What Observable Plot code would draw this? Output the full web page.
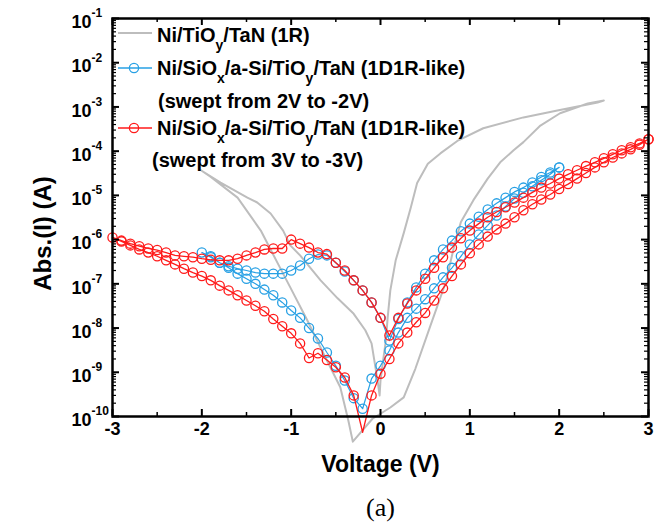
<!DOCTYPE html>
<html>
<head>
<meta charset="utf-8">
<script src="https://cdn.jsdelivr.net/npm/d3@7"></script>
<script src="https://cdn.jsdelivr.net/npm/@observablehq/plot@0.6"></script>
<style>
  html, body { margin: 0; padding: 0; background: #fff; }
  #chart svg { display: block; }
</style>
</head>
<body>
<div id="chart"></div>
<script>
const FONT = "'Liberation Sans', Arial, Helvetica, sans-serif";
const SERIF = "'Liberation Serif', 'Times New Roman', serif";

// ---- Ni/TiOy/TaN (1R) : hysteresis loop (voltage, |I|) ----
const r1_V = [2.50, 2.32, 2.01, 1.79, 1.60, 1.49, 1.34, 1.20, 1.04, 0.90, 0.83, 0.73, 0.56, 0.39, 0.26, 0.11, -0.09, -0.31,
  -0.36, -0.45, -0.64, -0.82, -1.01, -1.15, -1.34, -1.60, -1.90, -2.01,
  -1.79, -1.49, -1.38, -1.23, -1.09, -1.01, -0.90, -0.67, -0.48, -0.30, -0.17, -0.10, -0.07, -0.03, -0.01,
  0.00, 0.03, 0.06, 0.08, 0.11, 0.17, 0.26, 0.34, 0.41, 0.53, 0.67, 0.86, 1.15, 1.60, 1.98, 2.43, 2.50];
const r1_I = [1.4e-3, 1.2e-3, 7.2e-4, 3.8e-4, 1.6e-4, 1.05e-4, 5.6e-5, 2.4e-5, 7.8e-6, 2.5e-6, 7.9e-7, 1.07e-7, 1.15e-8, 1.2e-9, 2.7e-10, 1.6e-10, 8.9e-11, 2.7e-11,
  8.1e-11, 4.6e-10, 2.7e-9, 1.5e-8, 8.3e-8, 2.9e-7, 1.6e-6, 8.9e-6, 2.6e-5, 3.7e-5,
  1.95e-5, 8.9e-6, 6.9e-6, 3.9e-6, 1.6e-6, 7.4e-7, 4.4e-7, 1.2e-7, 4.7e-8, 2.1e-8, 8.9e-9, 4.5e-9, 1.9e-9, 5.9e-10, 3.0e-10,
  6.5e-10, 1.9e-9, 5.2e-9, 1.7e-8, 7.1e-8, 3.4e-7, 1.4e-6, 5.4e-6, 1.9e-5, 5.2e-5, 8.9e-5, 1.7e-4, 3.3e-4, 5.8e-4, 8.3e-4, 1.26e-3, 1.4e-3];

// ---- Ni/SiOx/a-Si/TiOy/TaN (1D1R-like), swept from 2V to -2V ----
const blue_V = [2.0, 1.9, 1.8, 1.7, 1.6, 1.5, 1.4, 1.3, 1.2, 1.1, 1.0, 0.9, 0.8, 0.7, 0.6, 0.5, 0.4, 0.3, 0.2, 0.1,
  0.0, -0.1, -0.2, -0.3, -0.4, -0.5, -0.6, -0.7, -0.8, -0.9, -1.0, -1.1, -1.2, -1.3, -1.4, -1.5, -1.6, -1.7, -1.8, -1.9, -2.0,
  -1.9, -1.8, -1.7, -1.6, -1.5, -1.4, -1.3, -1.2, -1.1, -1.0, -0.9, -0.8, -0.7, -0.6, -0.5, -0.4, -0.3, -0.2,
  -0.1, 0.0, 0.1, 0.2, 0.3, 0.4, 0.5, 0.6, 0.7, 0.8, 0.9, 1.0, 1.1, 1.2, 1.3, 1.4, 1.5, 1.6, 1.7, 1.8, 1.9, 2.0];
const blue_I = [4.3e-5, 3.3e-5, 2.6e-5, 1.95e-5, 1.5e-5, 1.2e-5, 8.9e-6, 6.6e-6, 4.8e-6, 3.3e-6, 2.3e-6, 1.55e-6, 9.5e-7, 6.0e-7, 3.4e-7, 1.7e-7, 8.3e-8, 3.8e-8, 1.6e-8, 5.2e-9,
  1.7e-8, 3.8e-8, 7.1e-8, 1.2e-7, 1.9e-7, 3.0e-7, 4.4e-7, 4.6e-7, 3.7e-7, 2.6e-7, 2.0e-7, 1.7e-7, 1.7e-7, 1.7e-7, 1.8e-7, 2.0e-7, 2.2e-7, 2.5e-7, 3.0e-7, 4.2e-7, 5.1e-7,
  4.0e-7, 3.0e-7, 2.3e-7, 1.7e-7, 1.3e-7, 1.0e-7, 7.4e-8, 5.5e-8, 3.8e-8, 2.5e-8, 1.7e-8, 1.0e-8, 5.8e-9, 2.8e-9, 1.4e-9, 6.5e-10, 2.6e-10, 1.5e-10,
  7.2e-10, 1.4e-9, 3.1e-9, 7.9e-9, 1.7e-8, 2.75e-8, 4.5e-8, 7.9e-8, 1.4e-7, 2.3e-7, 4.2e-7, 7.8e-7, 1.3e-6, 2.1e-6, 3.5e-6, 5.6e-6, 8.5e-6, 1.15e-5, 1.6e-5, 2.2e-5, 3.0e-5, 4.3e-5];

// ---- Ni/SiOx/a-Si/TiOy/TaN (1D1R-like), swept from 3V to -3V ----
const red_V = [3.0, 2.9, 2.8, 2.7, 2.6, 2.5, 2.4, 2.3, 2.2, 2.1, 2.0, 1.9, 1.8, 1.7, 1.6, 1.5, 1.4, 1.3, 1.2, 1.1, 1.0, 0.9, 0.8, 0.7, 0.6, 0.5, 0.4, 0.3, 0.2, 0.1,
  0.0, -0.1, -0.2, -0.3, -0.4, -0.5, -0.6, -0.7, -0.8, -0.9, -1.0, -1.1, -1.2, -1.3, -1.4, -1.5, -1.6, -1.7, -1.8, -1.9, -2.0, -2.1, -2.2, -2.3, -2.4, -2.5, -2.6, -2.7, -2.8, -2.9, -3.0,
  -2.9, -2.8, -2.7, -2.6, -2.5, -2.4, -2.3, -2.2, -2.1, -2.0, -1.9, -1.8, -1.7, -1.6, -1.5, -1.4, -1.3, -1.2, -1.1, -1.0, -0.9, -0.8, -0.7, -0.6, -0.5, -0.4, -0.3,
  -0.2,
  -0.1, 0.0, 0.1, 0.2, 0.3, 0.4, 0.5, 0.6, 0.7, 0.8, 0.9, 1.0, 1.1, 1.2, 1.3, 1.4, 1.5, 1.6, 1.7, 1.8, 1.9, 2.0, 2.1, 2.2, 2.3, 2.4, 2.5, 2.6, 2.7, 2.8, 2.9, 3.0];
const red_I = [1.86e-4, 1.5e-4, 1.23e-4, 1.05e-4, 8.5e-5, 6.9e-5, 5.6e-5, 4.6e-5, 3.7e-5, 3.0e-5, 2.4e-5, 1.86e-5, 1.5e-5, 1.17e-5, 8.9e-6, 6.9e-6, 5.4e-6, 4.2e-6, 3.2e-6, 2.3e-6, 1.6e-6, 1.07e-6, 6.6e-7, 4.0e-7, 2.3e-7, 1.3e-7, 7.1e-8, 3.6e-8, 1.7e-8, 6.8e-9,
  1.7e-8, 3.8e-8, 7.1e-8, 1.2e-7, 2.0e-7, 3.0e-7, 4.7e-7, 5.1e-7, 6.6e-7, 8.1e-7, 1.0e-6, 6.3e-7, 6.3e-7, 6.0e-7, 5.1e-7, 4.4e-7, 3.7e-7, 3.4e-7, 3.4e-7, 3.5e-7, 3.7e-7, 4.0e-7, 4.2e-7, 4.4e-7, 5.1e-7, 5.8e-7, 6.3e-7, 7.1e-7, 8.1e-7, 9.5e-7, 1.12e-6,
  9.1e-7, 7.4e-7, 6.0e-7, 5.1e-7, 4.2e-7, 3.4e-7, 2.75e-7, 2.2e-7, 1.8e-7, 1.5e-7, 1.2e-7, 9.1e-8, 7.1e-8, 5.5e-8, 4.2e-8, 3.2e-8, 2.4e-8, 1.6e-8, 1.1e-8, 7.6e-9, 4.5e-9, 2.1e-9, 2.7e-9, 1.9e-9, 1.3e-9, 7.6e-10, 3.0e-10,
  4.4e-11,
  3.0e-10, 9.3e-10, 2.0e-9, 4.5e-9, 7.9e-9, 1.35e-8, 2.2e-8, 4.2e-8, 7.9e-8, 1.5e-7, 2.75e-7, 4.9e-7, 7.8e-7, 1.17e-6, 1.7e-6, 2.3e-6, 3.2e-6, 4.6e-6, 6.3e-6, 8.1e-6, 1.05e-5, 1.4e-5, 1.8e-5, 2.4e-5, 3.2e-5, 4.3e-5, 5.6e-5, 7.2e-5, 8.9e-5, 1.1e-4, 1.4e-4, 1.86e-4];

// ---- axes ----
const xTicks = [-3, -2, -1, 0, 1, 2, 3];
const xTickLabels = ["-3", "-2", "-1", "0", "1", "2", "3"];
const xMinorTicks = [-2.5, -1.5, -0.5, 0.5, 1.5, 2.5];
const yTicks = [1e-1, 1e-2, 1e-3, 1e-4, 1e-5, 1e-6, 1e-7, 1e-8, 1e-9, 1e-10];
const yTickExponents = ["-1", "-2", "-3", "-4", "-5", "-6", "-7", "-8", "-9", "-10"];
const xTitle = "Voltage (V)";
const yTitle = "Abs.(I) (A)";
const caption = "(a)";

const colGray = "#bdbdbd", colBlue = "#27a0e4", colRed = "#ff1a1a";

const W = 655, H = 528, ML = 112, MR = 7, MT = 18, MB = 112;
const FW = W - ML - MR, FH = H - MT - MB;

const rows = (V, I) => V.map((v, i) => ({V: v, I: I[i]}));
const r1 = rows(r1_V, r1_I), blue = rows(blue_V, blue_I), red = rows(red_V, red_I);
const inDomain = d => d.I >= 1e-10;

const yMinor = [];
for (let k = 1; k < yTicks.length; k++) for (let m = 2; m <= 9; m++) yMinor.push(m * yTicks[k]);

const majorLen = 7, minorLen = 4;

const chart = Plot.plot({
  width: W, height: H,
  marginLeft: ML, marginRight: MR, marginTop: MT, marginBottom: MB,
  style: {fontFamily: FONT, background: "#fff", color: "#000"},
  x: {domain: [-3, 3], axis: null},
  y: {type: "log", domain: [1e-10, 1e-1], axis: null},
  marks: [
    // data
    Plot.line(r1, {x: "V", y: "I", stroke: colGray, strokeWidth: 2}),
    Plot.line(blue, {x: "V", y: "I", stroke: colBlue, strokeWidth: 1.2}),
    Plot.dot(blue.filter(inDomain), {x: "V", y: "I", r: 4.6, stroke: colBlue, fill: "none", strokeWidth: 1.3}),
    Plot.line(red, {x: "V", y: "I", stroke: colRed, strokeWidth: 1.3}),
    Plot.dot(red.filter(inDomain), {x: "V", y: "I", r: 4.6, stroke: colRed, fill: "none", strokeWidth: 1.3}),
    // frame
    Plot.frame({stroke: "#000", strokeWidth: 2.5}),
    // y ticks (left & right, inward)
    Plot.tickY(yTicks, {y: d => d, insetRight: FW - majorLen, stroke: "#000", strokeWidth: 2}),
    Plot.tickY(yTicks, {y: d => d, insetLeft: FW - majorLen, stroke: "#000", strokeWidth: 2}),
    Plot.tickY(yMinor, {y: d => d, insetRight: FW - minorLen, stroke: "#000", strokeWidth: 1.2}),
    Plot.tickY(yMinor, {y: d => d, insetLeft: FW - minorLen, stroke: "#000", strokeWidth: 1.2}),
    // x ticks (bottom & top, inward)
    Plot.tickX(xTicks, {x: d => d, insetTop: FH - majorLen, stroke: "#000", strokeWidth: 2}),
    Plot.tickX(xTicks, {x: d => d, insetBottom: FH - majorLen, stroke: "#000", strokeWidth: 2}),
    Plot.tickX(xMinorTicks, {x: d => d, insetTop: FH - minorLen, stroke: "#000", strokeWidth: 1.5}),
    Plot.tickX(xMinorTicks, {x: d => d, insetBottom: FH - minorLen, stroke: "#000", strokeWidth: 1.5}),
    // tick labels
    Plot.text(xTicks, {x: d => d, frameAnchor: "bottom", text: (d, i) => xTickLabels[i], dy: 18,
      fontSize: 18, fontWeight: "bold", fill: "#000"}),
    Plot.text(yTicks, {y: d => d, frameAnchor: "left", text: () => "10", dx: -41, dy: 4,
      textAnchor: "start", fontSize: 18, fontWeight: "bold", fill: "#000"}),
    Plot.text(yTicks, {y: d => d, frameAnchor: "left", text: (d, i) => yTickExponents[i], dx: -21, dy: -5,
      textAnchor: "start", fontSize: 12, fontWeight: "bold", fill: "#000"}),
    // titles
    Plot.text([xTitle], {frameAnchor: "bottom", text: d => d, dy: 55, textAnchor: "middle",
      fontSize: 23, fontWeight: "bold", fill: "#000"}),
    Plot.text([yTitle], {frameAnchor: "left", text: d => d, rotate: -90, dx: -69, dy: 16, textAnchor: "middle",
      fontSize: 24, fontWeight: "bold", fill: "#000"}),
    Plot.text([caption], {frameAnchor: "bottom", text: d => d, dy: 99, textAnchor: "middle",
      fontSize: 26, fontFamily: SERIF, fontWeight: "normal", fill: "#000"})
  ]
});

// ---- legend (inside the plot, top-left) ----
const legendEntries = [
  {kind: "line", color: colGray, marker: false, lineY: 33, textX: 157, baseY: 42, parts: [["Ni/TiO"], ["y", 1], ["/TaN (1R)"]]},
  {kind: "line", color: colBlue, marker: true, lineY: 68, textX: 157, baseY: 75, parts: [["Ni/SiO"], ["x", 1], ["/a-Si/TiO"], ["y", 1], ["/TaN (1D1R-like)"]]},
  {kind: "text", textX: 158, baseY: 108, parts: [["(swept from 2V to -2V)"]]},
  {kind: "line", color: colRed, marker: true, lineY: 128, textX: 157, baseY: 135, parts: [["Ni/SiO"], ["x", 1], ["/a-Si/TiO"], ["y", 1], ["/TaN (1D1R-like)"]]},
  {kind: "text", textX: 152, baseY: 167, parts: [["(swept from 3V to -3V)"]]}
];
const lg = d3.select(chart).append("g")
  .attr("font-family", FONT).attr("font-weight", "bold").attr("font-size", 20)
  .attr("fill", "#000").attr("text-anchor", "start");
for (const e of legendEntries) {
  if (e.kind === "line") {
    lg.append("line").attr("x1", 118).attr("x2", 152).attr("y1", e.lineY).attr("y2", e.lineY)
      .attr("stroke", e.color).attr("stroke-width", e.marker ? 1.3 : 2);
    if (e.marker) lg.append("circle").attr("cx", 134).attr("cy", e.lineY).attr("r", 4.6)
      .attr("fill", "none").attr("stroke", e.color).attr("stroke-width", 1.3);
  }
  const t = lg.append("text").attr("x", e.textX).attr("y", e.baseY).attr("text-anchor", "start");
  let shifted = false;
  for (const [s, sub] of e.parts) {
    const ts = t.append("tspan").text(s);
    if (sub) { ts.attr("font-size", 14).attr("dy", 8); shifted = true; }
    else if (shifted) { ts.attr("dy", -8); shifted = false; }
  }
}

document.getElementById("chart").appendChild(chart);
</script>
</body>
</html>
